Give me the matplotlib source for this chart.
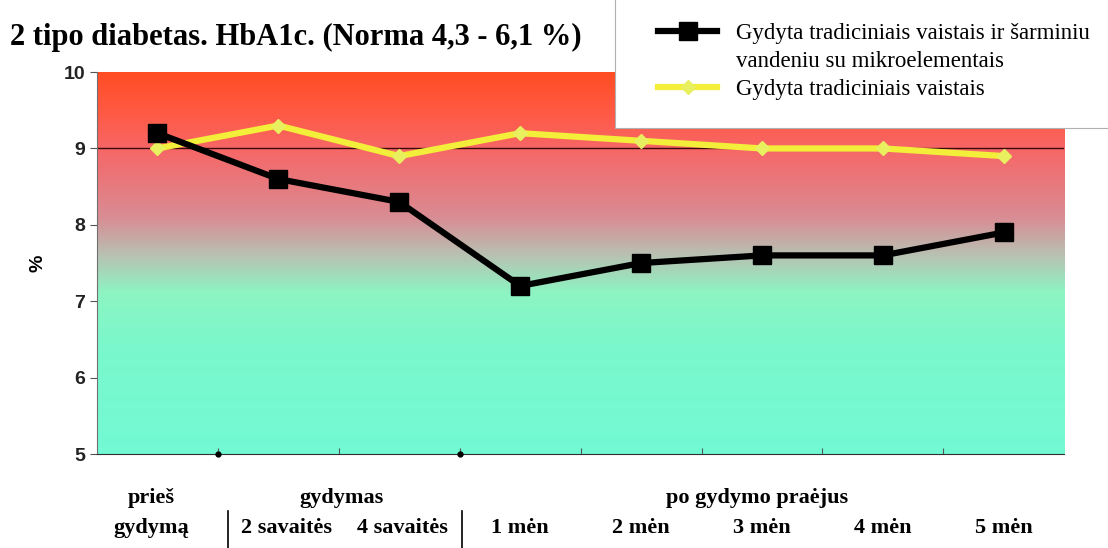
import numpy as np
import matplotlib
matplotlib.use('Agg')
from matplotlib import pyplot as plt
from matplotlib.colors import LinearSegmentedColormap
from matplotlib.lines import Line2D
from matplotlib.patches import Rectangle

# data
periods = ['prieš gydymą', '2 savaitės', '4 savaitės', '1 mėn', '2 mėn', '3 mėn', '4 mėn', '5 mėn']
alkaline = [9.2, 8.6, 8.3, 7.2, 7.5, 7.6, 7.6, 7.9]
traditional = [9.0, 9.3, 8.9, 9.2, 9.1, 9.0, 9.0, 8.9]
label_alkaline = 'Gydyta tradiciniais vaistais ir šarminiu\nvandeniu su mikroelementais'
label_traditional = 'Gydyta tradiciniais vaistais'
title = '2 tipo diabetas. HbA1c. (Norma 4,3 - 6,1 %)'

serif = 'Liberation Serif'
sans = 'Liberation Sans'

fig = plt.figure(figsize=(11.08, 5.48), dpi=100)
ax = fig.add_axes([0.0875, 0.1715, 0.873, 0.697])
x = np.arange(len(periods))

# background gradient red (top) -> mint (bottom)
stops = [(0.0, (0.45, 0.98, 0.83)), (0.28, (0.48, 0.97, 0.80)), (0.42, (0.55, 0.96, 0.76)),
         (0.52, (0.72, 0.76, 0.70)), (0.62, (0.85, 0.55, 0.58)), (0.80, (0.97, 0.40, 0.40)),
         (0.90, (1.0, 0.35, 0.26)), (1.0, (1.0, 0.30, 0.14))]
cmap = LinearSegmentedColormap.from_list('bg', stops)
grad = np.linspace(0, 1, 256).reshape(-1, 1)
ax.imshow(grad, cmap=cmap, origin='lower', aspect='auto',
          extent=[-0.5, len(periods) - 0.5, 5, 10], zorder=0)

ax.axhline(9, color='#3a0a0a', lw=1.0, zorder=1)

line_trad, = ax.plot(x, traditional, color='#f2ee3a', lw=4.5, marker='D', ms=7,
                     mfc='#e8f060', mec='#e8f060', zorder=3)
line_alk, = ax.plot(x, alkaline, color='black', lw=4.5, marker='s', ms=13, zorder=4)

ax.set_xlim(-0.5, len(periods) - 0.5)
ax.set_ylim(5, 10)
ax.set_yticks([5, 6, 7, 8, 9, 10])
ax.tick_params(axis='y', labelsize=14, length=5, color='#555555', labelcolor='#222222')
for t in ax.get_yticklabels():
    t.set_fontfamily(sans)
    t.set_fontweight('bold')
ax.set_xticks(np.arange(0.5, len(periods) - 0.5, 1.0))
ax.set_xticklabels([])
ax.tick_params(axis='x', direction='in', length=4, color='#555555')
for s in ['top', 'right']:
    ax.spines[s].set_visible(False)
ax.spines['left'].set_color('#707070')
ax.spines['bottom'].set_color('#303030')
ax.set_ylabel('%', fontsize=14, fontfamily=sans, fontweight='bold', labelpad=12)

# group separator dots on axis
ax.plot([0.5, 2.5], [5, 5], 'o', color='black', ms=3.5, clip_on=False, zorder=5)

# bottom category labels
tr = ax.get_xaxis_transform()
lab = dict(fontfamily=serif, fontweight='bold', fontsize=16, ha='center', va='center', transform=tr)
ax.text(-0.05, -0.115, 'prieš', **lab)
ax.text(-0.05, -0.195, 'gydymą', **lab)
ax.text(1.52, -0.115, 'gydymas', **lab)
ax.text(1.07, -0.195, periods[1], **lab)
ax.text(2.03, -0.195, periods[2], **lab)
ax.text(4.96, -0.115, 'po gydymo praėjus', **lab)
for i in range(3, len(periods)):
    ax.text(i, -0.195, periods[i], **lab)
for sx in [0.58, 2.52]:
    ax.add_line(Line2D([sx, sx], [-0.15, -0.245], transform=tr, color='black', lw=1.2, clip_on=False))

fig.text(0.009, 0.932, title, fontfamily=serif, fontweight='bold', fontsize=22, va='center')

# legend box
fig.patches.append(Rectangle((0.555, 0.766), 0.46, 0.25, transform=fig.transFigure,
                             facecolor='white', edgecolor='#b0b0b0', lw=0.8, zorder=10))
alk_lines = label_alkaline.split('\n')
blank = Line2D([], [], color='none')
leg = fig.legend([line_alk, blank, line_trad], [alk_lines[0], alk_lines[1], label_traditional],
                 loc='upper left', bbox_to_anchor=(0.575, 0.995),
                 frameon=False, prop={'family': serif, 'size': 16.5}, handlelength=2.6,
                 labelspacing=0.3)
leg.set_zorder(11)

fig.savefig('out.png', dpi=100)
